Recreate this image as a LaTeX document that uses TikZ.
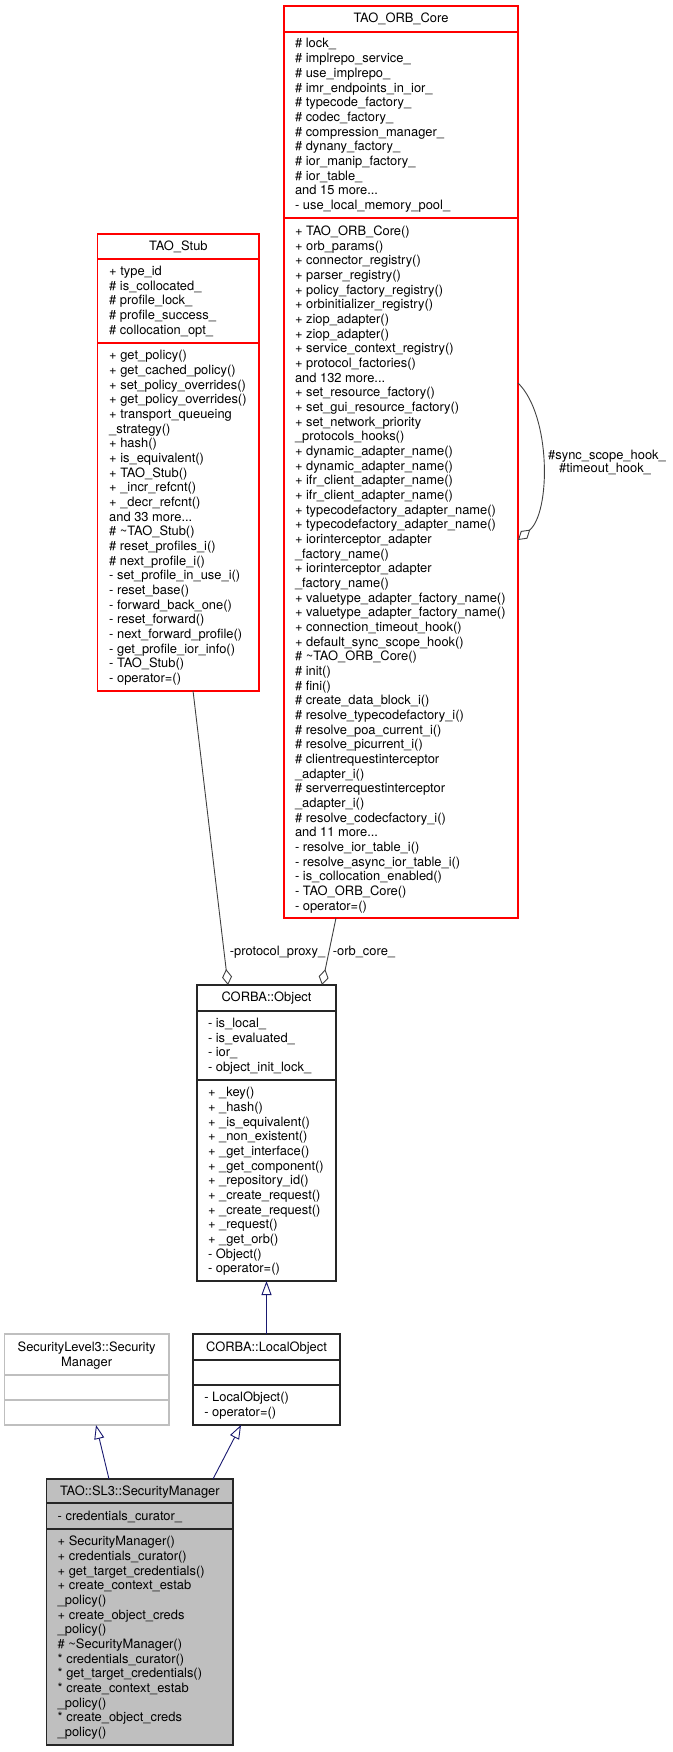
\documentclass[tikz,border=0pt]{standalone}
\usepackage{fontspec}
\setmainfont{TeX Gyre Heros}
\usetikzlibrary{arrows.meta}
\definecolor{edgegrey}{HTML}{404040}
\definecolor{inhblue}{HTML}{191970}
\definecolor{greyfill}{HTML}{BFBFBF}
\definecolor{boxred}{HTML}{FF0000}
\newcommand{\tzstrut}{\rule{0pt}{10pt}}
\begin{document}
\begin{tikzpicture}[x=1pt,y=-1pt,
  every node/.style={font=\fontsize{12.9}{14.67}\selectfont, inner sep=0pt, outer sep=0pt},
  boxbase/.style={anchor=north west, line width=1.1pt},
  redbox/.style={boxbase, draw=boxred},
  blackbox/.style={boxbase, draw=black!85},
  greybox/.style={boxbase, draw=greyfill},
  focusbox/.style={boxbase, draw=black!85, fill=greyfill},
  redsep/.style={draw=boxred, line width=1.1pt},
  blacksep/.style={draw=black!85, line width=1.1pt},
  greysep/.style={draw=greyfill, line width=1.1pt},
  txt/.style={anchor=north west, align=left},
  ttl/.style={anchor=base},
  uses/.style={draw=edgegrey, line width=0.9pt, -{Diamond[open, length=16pt, width=10pt]}},
  inherit/.style={draw=inhblue, line width=0.9pt, -{Triangle[open, length=14pt, width=10pt]}},
  elabel/.style={anchor=base}
]
\useasboundingbox (0,0) rectangle (672,1752);

% ---------------- TAO_ORB_Core ----------------
\node[redbox, minimum width=234pt, minimum height=912pt] (core) at (284,6) {};
\draw[redsep] (284,32) -- (518,32);
\draw[redsep] (284,218) -- (518,218);
\node[ttl] (coretitle) at (401,23) {TAO\_ORB\_Core};
\node[txt] (coreattr) at (295,38) {\tzstrut\# lock\_\\
\# implrepo\_service\_\\
\# use\_implrepo\_\\
\# imr\_endpoints\_in\_ior\_\\
\# typecode\_factory\_\\
\# codec\_factory\_\\
\# compression\_manager\_\\
\# dynany\_factory\_\\
\# ior\_manip\_factory\_\\
\# ior\_table\_\\
and 15 more...\\
- use\_local\_memory\_pool\_};
\node[txt] (coreops) at (295,225.4) {\tzstrut+ TAO\_ORB\_Core()\\
+ orb\_params()\\
+ connector\_registry()\\
+ parser\_registry()\\
+ policy\_factory\_registry()\\
+ orbinitializer\_registry()\\
+ ziop\_adapter()\\
+ ziop\_adapter()\\
+ service\_context\_registry()\\
+ protocol\_factories()\\
and 132 more...\\
+ set\_resource\_factory()\\
+ set\_gui\_resource\_factory()\\
+ set\_network\_priority\\
\_protocols\_hooks()\\
+ dynamic\_adapter\_name()\\
+ dynamic\_adapter\_name()\\
+ ifr\_client\_adapter\_name()\\
+ ifr\_client\_adapter\_name()\\
+ typecodefactory\_adapter\_name()\\
+ typecodefactory\_adapter\_name()\\
+ iorinterceptor\_adapter\\
\_factory\_name()\\
+ iorinterceptor\_adapter\\
\_factory\_name()\\
+ valuetype\_adapter\_factory\_name()\\
+ valuetype\_adapter\_factory\_name()\\
+ connection\_timeout\_hook()\\
+ default\_sync\_scope\_hook()\\
\# \textasciitilde TAO\_ORB\_Core()\\
\# init()\\
\# fini()\\
\# create\_data\_block\_i()\\
\# resolve\_typecodefactory\_i()\\
\# resolve\_poa\_current\_i()\\
\# resolve\_picurrent\_i()\\
\# clientrequestinterceptor\\
\_adapter\_i()\\
\# serverrequestinterceptor\\
\_adapter\_i()\\
\# resolve\_codecfactory\_i()\\
and 11 more...\\
- resolve\_ior\_table\_i()\\
- resolve\_async\_ior\_table\_i()\\
- is\_collocation\_enabled()\\
- TAO\_ORB\_Core()\\
- operator=()};

% ---------------- TAO_Stub ----------------
\node[redbox, minimum width=161.3pt, minimum height=457pt] (stub) at (97.7,234) {};
\draw[redsep] (97.7,259) -- (259,259);
\draw[redsep] (97.7,343) -- (259,343);
\node[ttl] (stubtitle) at (178.35,250.4) {TAO\_Stub};
\node[txt] (stubattr) at (109.2,265.4) {\tzstrut+ type\_id\\
\# is\_collocated\_\\
\# profile\_lock\_\\
\# profile\_success\_\\
\# collocation\_opt\_};
\node[txt] (stubops) at (109.2,349.7) {\tzstrut+ get\_policy()\\
+ get\_cached\_policy()\\
+ set\_policy\_overrides()\\
+ get\_policy\_overrides()\\
+ transport\_queueing\\
\_strategy()\\
+ hash()\\
+ is\_equivalent()\\
+ TAO\_Stub()\\
+ \_incr\_refcnt()\\
+ \_decr\_refcnt()\\
and 33 more...\\
\# \textasciitilde TAO\_Stub()\\
\# reset\_profiles\_i()\\
\# next\_profile\_i()\\
- set\_profile\_in\_use\_i()\\
- reset\_base()\\
- forward\_back\_one()\\
- reset\_forward()\\
- next\_forward\_profile()\\
- get\_profile\_ior\_info()\\
- TAO\_Stub()\\
- operator=()};

% ---------------- CORBA::Object ----------------
\node[blackbox, minimum width=139pt, minimum height=296pt] (obj) at (197,985) {};
\draw[blacksep] (197,1011) -- (336,1011);
\draw[blacksep] (197,1080) -- (336,1080);
\node[ttl] (objtitle) at (266.5,1001.7) {CORBA::Object};
\node[txt] (objattr) at (208,1017.4) {\tzstrut- is\_local\_\\
- is\_evaluated\_\\
- ior\_\\
- object\_init\_lock\_};
\node[txt] (objops) at (208,1086.7) {\tzstrut+ \_key()\\
+ \_hash()\\
+ \_is\_equivalent()\\
+ \_non\_existent()\\
+ \_get\_interface()\\
+ \_get\_component()\\
+ \_repository\_id()\\
+ \_create\_request()\\
+ \_create\_request()\\
+ \_request()\\
+ \_get\_orb()\\
- Object()\\
- operator=()};

% ---------------- CORBA::LocalObject ----------------
\node[blackbox, minimum width=147pt, minimum height=91pt] (lo) at (193,1334) {};
\draw[blacksep] (193,1360) -- (340,1360);
\draw[blacksep] (193,1385) -- (340,1385);
\node[ttl] (lotitle) at (266.5,1351.4) {CORBA::LocalObject};
\node[txt] (loops) at (204.3,1391.7) {\tzstrut- LocalObject()\\
- operator=()};

% ---------------- SecurityLevel3::SecurityManager ----------------
\node[greybox, minimum width=164.7pt, minimum height=91pt] (sl3) at (4.3,1334) {};
\draw[greysep] (4.3,1375) -- (169,1375);
\draw[greysep] (4.3,1400) -- (169,1400);
\node[anchor=north, align=center] (sl3title) at (86.65,1341.4) {\tzstrut SecurityLevel3::Security\\Manager};

% ---------------- TAO::SL3::SecurityManager ----------------
\node[focusbox, minimum width=186.3pt, minimum height=266pt] (sm) at (46.7,1479) {};
\draw[blacksep] (46.7,1503) -- (233,1503);
\draw[blacksep] (46.7,1529) -- (233,1529);
\node[ttl] (smtitle) at (139.85,1495.7) {TAO::SL3::SecurityManager};
\node[txt] (smattr) at (57.7,1510.7) {\tzstrut- credentials\_curator\_};
\node[txt] (smops) at (57.7,1535.7) {\tzstrut+ SecurityManager()\\
+ credentials\_curator()\\
+ get\_target\_credentials()\\
+ create\_context\_estab\\
\_policy()\\
+ create\_object\_creds\\
\_policy()\\
\# \textasciitilde SecurityManager()\\
* credentials\_curator()\\
* get\_target\_credentials()\\
* create\_context\_estab\\
\_policy()\\
* create\_object\_creds\\
\_policy()};

% ---------------- connectors ----------------
\draw[uses] ([xshift=14.7pt]stub.south) -- ([xshift=-38.5pt]obj.north);
\draw[uses] ([xshift=-65pt]core.south) -- ([xshift=55.5pt]obj.north);
\draw[uses] ([yshift=79pt]core.east) .. controls +(33,32) and +(33,-28) .. ([yshift=-78pt]core.east);
\draw[inherit] (lo.north) -- (obj.south);
\draw[inherit] ([xshift=-30.85pt]sm.north) -- ([xshift=9.35pt]sl3.south);
\draw[inherit] ([xshift=73.15pt]sm.north) -- ([xshift=-25.5pt]lo.south);

% ---------------- connector labels ----------------
\node[elabel] (lblproxy) at (277.5,955.7) {-protocol\_proxy\_};
\node[elabel] (lblorb) at (364,955.7) {-orb\_core\_};
\node[elabel] (lblsync) at (607,459.7) {\#sync\_scope\_hook\_};
\node[elabel] (lbltimeout) at (605,472.7) {\#timeout\_hook\_};
\end{tikzpicture}
\end{document}
